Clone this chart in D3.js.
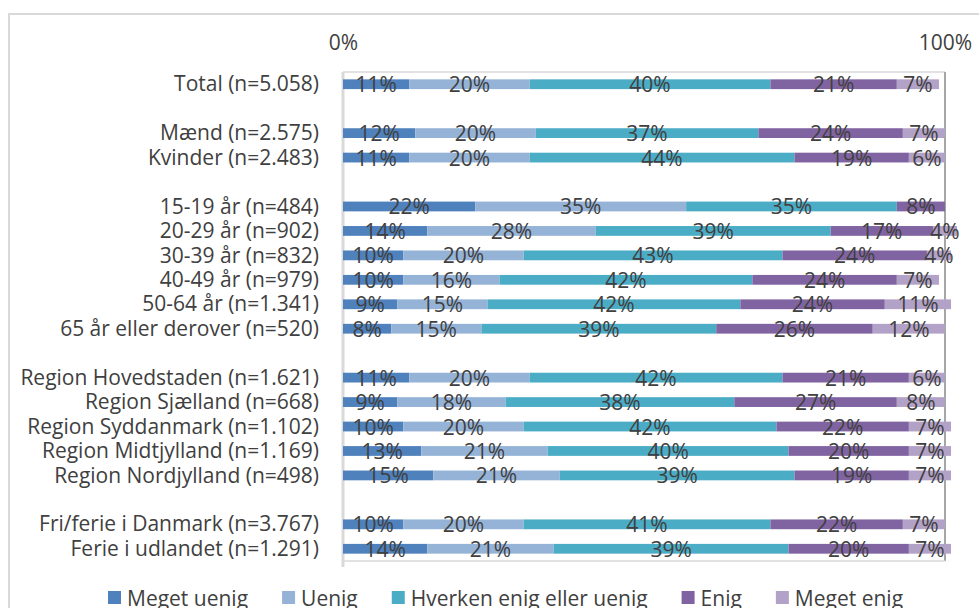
<!DOCTYPE html>
<html>
<head>
<meta charset="utf-8">
<script src="https://cdn.jsdelivr.net/npm/d3@7"></script>
<style>
  html, body { margin: 0; padding: 0; background: #ffffff; }
  svg { display: block; }
  text { font-family: "Open Sans", "Noto Sans", sans-serif; }
</style>
</head>
<body>
<svg id="chart" width="979" height="608"></svg>
<script>
// ---------- DATA ----------
const categories = [
  "Total (n=5.058)", "",
  "Mænd (n=2.575)", "Kvinder (n=2.483)", "",
  "15-19 år (n=484)", "20-29 år (n=902)", "30-39 år (n=832)",
  "40-49 år (n=979)", "50-64 år (n=1.341)", "65 år eller derover (n=520)", "",
  "Region Hovedstaden (n=1.621)", "Region Sjælland (n=668)", "Region Syddanmark (n=1.102)",
  "Region Midtjylland (n=1.169)", "Region Nordjylland (n=498)", "",
  "Fri/ferie i Danmark (n=3.767)", "Ferie i udlandet (n=1.291)"
];
const seriesNames = ["Meget uenig", "Uenig", "Hverken enig eller uenig", "Enig", "Meget enig"];
const megetUenig = [11, null, 12, 11, null, 22, 14, 10, 10, 9, 8, null, 11, 9, 10, 13, 15, null, 10, 14];
const uenig      = [20, null, 20, 20, null, 35, 28, 20, 16, 15, 15, null, 20, 18, 20, 21, 21, null, 20, 21];
const hverken    = [40, null, 37, 44, null, 35, 39, 43, 42, 42, 39, null, 42, 38, 42, 40, 39, null, 41, 39];
const enig       = [21, null, 24, 19, null, 8, 17, 24, 24, 24, 26, null, 21, 27, 22, 20, 19, null, 22, 20];
const megetEnig  = [7, null, 7, 6, null, 0, 4, 4, 7, 11, 12, null, 6, 8, 7, 7, 7, null, 7, 7];
const axisTicks = [0, 100];
const axisTickLabels = ["0%", "100%"];
const colors = ["#4f81bd", "#95b3d7", "#4bacc6", "#8064a2", "#b3a2c7"];

// ---------- LAYOUT ----------
const svg = d3.select("#chart");
const plot = { left: 343, right: 945, top: 72, bottom: 561 };
const FONT = 21;
const TEXT = "#404040";

const allSeries = [megetUenig, uenig, hverken, enig, megetEnig];

const x = d3.scaleLinear().domain([0, 100]).range([plot.left, plot.right]);
const y = d3.scaleBand()
  .domain(categories.map((d, i) => i))
  .range([plot.top, plot.bottom])
  .paddingInner(0.6)
  .paddingOuter(0.3);

// outer chart frame
svg.append("rect")
  .attr("x", 9).attr("y", 14)
  .attr("width", 1000).attr("height", 700)
  .attr("fill", "none").attr("stroke", "#d9d9d9").attr("stroke-width", 2);

// plot area border
svg.append("line")
  .attr("x1", plot.left).attr("x2", plot.right)
  .attr("y1", plot.top).attr("y2", plot.top)
  .attr("stroke", "#d9d9d9").attr("stroke-width", 1.5);
svg.append("line")
  .attr("x1", plot.right).attr("x2", plot.right)
  .attr("y1", plot.top).attr("y2", plot.bottom)
  .attr("stroke", "#a6a6a6").attr("stroke-width", 2);
svg.append("line")
  .attr("x1", plot.left).attr("x2", plot.right)
  .attr("y1", plot.bottom).attr("y2", plot.bottom)
  .attr("stroke", "#d9d9d9").attr("stroke-width", 1.5);
svg.append("line")
  .attr("x1", plot.left).attr("x2", plot.left)
  .attr("y1", plot.top).attr("y2", plot.bottom + 6)
  .attr("stroke", "#d9d9d9").attr("stroke-width", 3);

// top value axis labels
const xAxis = d3.axisTop(x).tickValues(axisTicks)
  .tickFormat((d, i) => axisTickLabels[i]).tickSize(0).tickPadding(0);
const gx = svg.append("g").attr("transform", `translate(0, 50)`).call(xAxis);
gx.select(".domain").remove();
gx.selectAll("text")
  .attr("font-size", FONT).attr("fill", TEXT)
  .attr("font-family", "Open Sans, sans-serif");

// category labels via axis
const yAxis = d3.axisLeft(y).tickFormat(i => categories[i]).tickSize(0).tickPadding(0);
const gy = svg.append("g").attr("transform", `translate(${plot.left - 24}, 0)`).call(yAxis);
gy.select(".domain").remove();
gy.selectAll("text")
  .attr("font-size", FONT).attr("fill", TEXT)
  .attr("font-family", "Open Sans, sans-serif")
  .attr("dy", "0.34em");

// stacked segments
const rows = categories.map((c, i) => {
  let acc = 0;
  const segs = [];
  allSeries.forEach((s, k) => {
    const v = s[i];
    if (v == null) return;
    segs.push({ row: i, k, v, x0: acc, x1: acc + v });
    acc += v;
  });
  return segs;
});
const segs = rows.flat();

svg.append("g").selectAll("rect")
  .data(segs.filter(d => d.v > 0))
  .join("rect")
  .attr("x", d => x(d.x0))
  .attr("y", d => y(d.row))
  .attr("width", d => x(d.x1) - x(d.x0))
  .attr("height", y.bandwidth())
  .attr("fill", d => colors[d.k]);

svg.append("g").selectAll("text")
  .data(segs.filter(d => d.v > 0))
  .join("text")
  .attr("x", d => x((d.x0 + d.x1) / 2))
  .attr("y", d => y(d.row) + y.bandwidth() / 2)
  .attr("dy", "0.38em")
  .attr("text-anchor", "middle")
  .attr("font-size", FONT)
  .attr("fill", TEXT)
  .text(d => d.v + "%");

// legend
const legend = svg.append("g").attr("transform", "translate(108, 598)");
let lx = 0;
seriesNames.forEach((name, k) => {
  const g = legend.append("g").attr("transform", `translate(${lx},0)`);
  g.append("rect").attr("x", 0).attr("y", -7).attr("width", 13).attr("height", 13).attr("fill", colors[k]);
  const t = g.append("text").attr("x", 19).attr("y", 0).attr("dy", "0.36em")
    .attr("font-size", FONT).attr("fill", TEXT).text(name);
  lx += 19 + t.node().getComputedTextLength() + 34;
});
</script>
</body>
</html>
